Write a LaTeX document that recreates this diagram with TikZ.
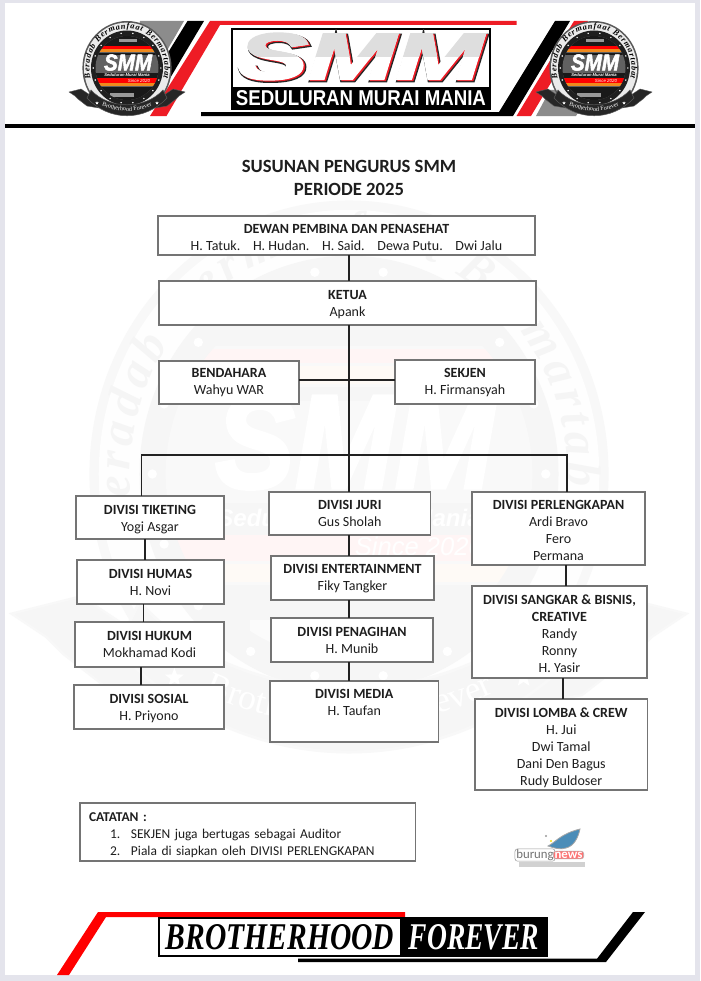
\documentclass[tikz,border=0pt]{standalone}
\usepackage{fontspec}
\usepackage{graphicx}
\setmainfont{Carlito}
\newfontfamily\lsans{Liberation Sans}
\newfontfamily\lserif{Liberation Serif}
\newfontface\lsansfat[FakeBold=5]{Liberation Sans Bold Italic}
\newfontface\lsansmid[FakeBold=2.5]{Liberation Sans Bold Italic}
\usetikzlibrary{shapes.geometric,decorations.text}
\definecolor{pagebg}{HTML}{E4E4EC}
\definecolor{boxgray}{HTML}{747474}
\definecolor{connink}{HTML}{222222}
\definecolor{inktext}{HTML}{1E1E1E}
\definecolor{smmred}{HTML}{EE1C25}
\definecolor{stripegray}{HTML}{8C8C8C}
\definecolor{logogray}{HTML}{DEDEDE}
\definecolor{bOrangeBase}{HTML}{F08A1D}
\tikzset{
  orgbox/.style={draw=boxgray,fill=white,line width=0.8pt,align=center,inner sep=0pt,outer sep=0pt,text=inktext,font=\fontsize{10.5}{12.75}\selectfont},
  conn/.style={draw=connink,line width=0.9pt},
  plain/.style={inner sep=0pt,outer sep=0pt},
}
% name x0 y0 x1 y1 firstlineheight text
\newcommand\orgnode[7]{\node[orgbox,minimum width={(#4-#2)*0.75pt},minimum height={(#5-#3)*0.75pt}] (#1) at ({(#2+#4)/2},{(#3+#5)/2}) {\rule{0pt}{#6pt}#7\rule[-3pt]{0pt}{3pt}};}
% cx cy scale mix(percent of full strength) prefix
\newcommand\badge[5]{%
\begin{scope}[shift={(#1,#2)}]
\pgfmathsetlengthmacro\bu{#3*0.75pt}
\pgfmathsetmacro\fsA{#3*6.2}
\pgfmathsetmacro\fsB{#3*4.6}
\pgfmathsetmacro\fsC{#3*3.1}
\pgfmathsetmacro\fsD{#3*3.3}
\pgfmathsetlengthmacro\wSmm{48*#3*0.75pt}
\pgfmathsetlengthmacro\hSmm{16*#3*0.75pt}
\pgfmathsetlengthmacro\ssz{3.4*#3*0.75pt}
\colorlet{bOuter}{black!65!white!#4!white}
\colorlet{bBand}{black!8!white!#4!white}
\colorlet{bRing}{black!88!white!#4!white}
\colorlet{bDisc}{black!62!white!#4!white}
\colorlet{bBlack}{black!90!white!#4!white}
\colorlet{bRed}{red!#4!white}
\colorlet{bOrange}{bOrangeBase!#4!white}
\colorlet{bMid}{black!40!white!#4!white}
\colorlet{bTxt}{black!#4!white}
\colorlet{bRib}{black!85!white!#4!white}
\begin{scope}[x=\bu,y=-\bu]
\fill[bRib,draw=bOuter,line width=0.4*\bu] (-58,24) -- (-46,21) -- (-34,29) -- (-28,40) -- (-40,38) -- (-49,31) -- (-52,28) -- cycle;
\fill[bRib,draw=bOuter,line width=0.4*\bu] (58,24) -- (46,21) -- (34,29) -- (28,40) -- (40,38) -- (49,31) -- (52,28) -- cycle;
\fill[bOuter] (0,0) ellipse[x radius=44.6,y radius=47];
\fill[bBand] (0,0) ellipse[x radius=43,y radius=45.4];
\fill[bRing] (0,0) ellipse[x radius=36,y radius=37.5];
\foreach \t in {0,20,...,340}{\fill[white] ({33.8*cos(\t)},{35.2*sin(\t)}) circle[radius=0.8];}
\begin{scope}
\clip (0,0) ellipse[x radius=31.5,y radius=32];
\fill[bDisc] (-35,-35) rectangle (35,35);
\fill[bBlack] (-35,-35) rectangle (35,-22);
\fill[bMid] (-8,-29) rectangle (10,-26);
\fill[bRed] (-35,-21.5) rectangle (35,-19);
\fill[bOrange] (-35,-18.5) rectangle (35,-15.5);
\fill[bBlack] (-35,-15) rectangle (35,-12.5);
\fill[bBlack] (-35,5) rectangle (35,10.5);
\fill[bRed] (-35,10.5) rectangle (35,15);
\fill[bOrange] (-35,15.5) rectangle (35,18.5);
\fill[bBlack] (-35,19) rectangle (35,35);
\fill[bMid] (-17,25) rectangle (7,29);
\end{scope}
\node[plain,text=white] (#5smm) at (1,-5.5) {\resizebox{\wSmm}{\hSmm}{\lsansmid SMM}};
\node[plain,text=white,font=\lsans\bfseries\itshape\fontsize{\fsC}{\fsC}\selectfont] (#5sub) at (0,7.5) {Seduluran Murai Mania};
\node[plain,text=white,font=\lsans\itshape\fontsize{\fsD}{\fsD}\selectfont] (#5since) at (12,12.5) {Since 2020};
\def\bandfont{\lserif\bfseries\itshape\fontsize{\fsA}{\fsA}\selectfont\color{bTxt}}
\path[decorate,decoration={text along path,text align=fit to path,text={|\bandfont|Beradab Bermanfaat Bermartabat}}] ({37.6*cos(165)},{39.4*sin(165)}) arc[start angle=165,end angle=375,x radius=37.6,y radius=39.4];
\fill[bRib,draw=bOuter,line width=0.5*\bu] (-40,30) .. controls (-18,53.7) and (18,53.7) .. (40,30) -- (36,22) .. controls (18,41.7) and (-18,41.7) .. (-36,22) -- cycle;
\def\ribfont{\lserif\fontsize{\fsB}{\fsB}\selectfont\color{white}}
\path[decorate,decoration={text along path,text align=center,text={|\ribfont|Brotherhood Forever}}] (-38,29) .. controls (-18,47.7) and (18,47.7) .. (38,29);
\node[star,star points=5,star point ratio=2.4,fill=white,inner sep=0pt,minimum size=\ssz] (#5sa) at (-30,35) {};
\node[star,star points=5,star point ratio=2.4,fill=white,inner sep=0pt,minimum size=\ssz] (#5sb) at (30,35) {};
\end{scope}
\end{scope}}
\begin{document}
\begin{tikzpicture}[x=0.75pt,y=-0.75pt]
\useasboundingbox (0,0) rectangle (700,981);
\fill[pagebg] (0,0) rectangle (700,981);
\fill[white] (5,3) rectangle (694.5,975);
% watermark
\badge{349}{474}{5.82}{4}{wm}
% header stripes
\fill[stripegray] (140,21) -- (184,21) -- (150,80) -- (130,80) -- cycle;
\fill[black] (187.5,21) -- (204,21) -- (166,85) -- (148,85) -- cycle;
\fill[smmred] (210,21) -- (516.5,21) -- (516.5,25) -- (220,25) -- (166.5,116) -- (150,116) -- cycle;
\fill[black] (555,21) -- (570,21) -- (513,116) -- (201,116) -- (201,112) -- (499,112) -- cycle;
\fill[smmred] (574,21) -- (588,21) -- (531,116) -- (516.5,116) -- cycle;
\fill[stripegray] (550,90) -- (592,90) -- (576,116) -- (536,116) -- cycle;
\fill[black] (5,124) rectangle (694.5,128);
\badge{127}{68}{1}{100}{la}
\badge{594}{68}{1}{100}{ra}
% centre logo
\node[draw=black,fill=white,line width=0.9pt,inner sep=0pt,outer sep=0pt,minimum width=193.5pt,minimum height=60pt] (logobox) at (361,69) {};
\node[fill=black,text=white,inner sep=0pt,outer sep=0pt,minimum width=193.5pt,minimum height=16.5pt] (logostrip) at (361,98) {\resizebox{187.5pt}{11.25pt}{\lsans\bfseries SEDULURAN MURAI MANIA}};
\begin{scope}
\clip (233,30) rectangle (489,86);
\node[plain,text=black!85] (smmA) at (362,58) {\resizebox{183.75pt}{34.5pt}{\lsansfat SMM}};
\node[plain,text=smmred] (smmB) at (362,57.5) {\resizebox{183.75pt}{34.5pt}{\lsansmid SMM}};
\node[plain,text=white] (smmC) at (360.5,56.5) {\resizebox{183.75pt}{34.5pt}{\lsansmid SMM}};
\end{scope}
\begin{scope}
\clip (232,30) rectangle (490,57);
\node[plain,text=logogray] (smmD) at (360.5,56.5) {\resizebox{183.75pt}{34.5pt}{\lsansmid SMM}};
\end{scope}
% title
\node[plain,align=center,text=inktext,font=\fontsize{14}{17.25}\selectfont\bfseries] (title) at (349,177.5) {SUSUNAN PENGURUS SMM\\PERIODE 2025};
% boxes
\orgnode{dewan}{158}{216}{535}{255}{13}{\textbf{DEWAN PEMBINA DAN PENASEHAT}\\H. Tatuk.\hspace{9.5pt}H. Hudan.\hspace{9.5pt}H. Said.\hspace{9.5pt}Dewa Putu.\hspace{9.5pt}Dwi Jalu}
\orgnode{ketua}{159}{281}{536}{325}{10.8}{\textbf{KETUA}\\Apank}
\orgnode{bend}{159}{361}{299}{404}{8.5}{\textbf{BENDAHARA}\\Wahyu WAR}
\orgnode{sekjen}{395}{360}{535}{404}{9.3}{\textbf{SEKJEN}\\H. Firmansyah}
\orgnode{tiket}{76}{496}{224}{539}{11.1}{\textbf{DIVISI TIKETING}\\Yogi Asgar}
\orgnode{humas}{77}{560}{224}{604}{10.8}{\textbf{DIVISI HUMAS}\\H. Novi}
\orgnode{hukum}{75}{622}{224}{667}{10}{\textbf{DIVISI HUKUM}\\Mokhamad Kodi}
\orgnode{sosial}{74}{685}{224}{729}{10.8}{\textbf{DIVISI SOSIAL}\\H. Priyono}
\orgnode{juri}{269}{492}{430.5}{535}{10}{\textbf{DIVISI JURI}\\Gus Sholah}
\orgnode{enter}{271}{556}{434}{600}{9.3}{\textbf{DIVISI ENTERTAINMENT}\\Fiky Tangker}
\orgnode{penag}{271}{618}{433}{662}{10.8}{\textbf{DIVISI PENAGIHAN}\\H. Munib}
\orgnode{media}{270}{681}{438.5}{742}{9.3}{\textbf{DIVISI MEDIA}\\H. Taufan\\~}
\orgnode{perl}{472}{492}{645}{565}{13}{\textbf{DIVISI PERLENGKAPAN}\\Ardi Bravo\\Fero\\Permana}
\orgnode{sangkar}{472}{586}{647}{678}{12.6}{\textbf{DIVISI SANGKAR \& BISNIS,}\\\textbf{CREATIVE}\\Randy\\Ronny\\H. Yasir}
\orgnode{lomba}{475}{699}{647.5}{790}{13.8}{\textbf{DIVISI LOMBA \& CREW}\\H. Jui\\Dwi Tamal\\Dani Den Bagus\\Rudy Buldoser}
% connectors
\coordinate (xc) at (349,0);
\coordinate (xl) at (141.5,0);
\coordinate (xr) at (567,0);
\coordinate (ybus) at (0,455);
\coordinate (ybar) at (0,380);
\coordinate (xa) at (145,0);
\coordinate (xb) at (143.5,0);
\coordinate (xd) at (141,0);
\coordinate (xe) at (566,0);
\coordinate (xf) at (563,0);
\draw[conn] (dewan.south -| xc) -- (ketua.north -| xc);
\draw[conn] (ketua.south -| xc) -- (juri.north -| xc);
\draw[conn] (bend.east |- ybar) -- (sekjen.west |- ybar);
\draw[conn] (tiket.north -| xl) -- (xl |- ybus) -- (xr |- ybus) -- (perl.north -| xr);
\draw[conn] (tiket.south -| xa) -- (humas.north -| xa);
\draw[conn] (humas.south -| xb) -- (hukum.north -| xb);
\draw[conn] (hukum.south -| xd) -- (sosial.north -| xd);
\draw[conn] (juri.south -| xc) -- (enter.north -| xc);
\draw[conn] (enter.south -| xc) -- (penag.north -| xc);
\draw[conn] (penag.south -| xc) -- (media.north -| xc);
\draw[conn] (perl.south -| xe) -- (sangkar.north -| xe);
\draw[conn] (sangkar.south -| xf) -- (lomba.north -| xf);
% notes
\node[orgbox,align=left,text width=238.2pt,inner xsep=6.75pt,minimum height=43.5pt,font=\fontsize{10.1}{12.75}\selectfont] (notes) at (247.8,832) {\rule{0pt}{11.5pt}\textbf{CATATAN :}\\\makebox[15.75pt][l]{}\makebox[15.75pt][l]{1.}SEKJEN juga bertugas sebagai Auditor\\\makebox[15.75pt][l]{}\makebox[15.75pt][l]{2.}Piala di siapkan oleh DIVISI PERLENGKAPAN};
% burung news mark
\fill[black!18] (519,862) rectangle (585,867);
\fill[blue!40!cyan!60!black!70!white,draw=black!35,line width=0.6pt] (548,846) .. controls (556,842) and (560,834) .. (580,829) .. controls (578,838) and (574,846) .. (566,848) .. controls (560,850) and (554,848) .. (548,846) -- cycle;
\fill[yellow!80!orange] (551,841) circle[radius=1.2];
\fill[black!40] (546,836) circle[radius=1.2];
\node[draw=black!40,fill=white,rounded corners=2pt,text=black!55,inner xsep=1pt,inner ysep=0.5pt,font=\fontsize{9.6}{9.6}\selectfont] (burung) at (535,855) {burung};
\node[draw=black!30,fill=red!55!white,rounded corners=2pt,text=white,inner xsep=1pt,inner ysep=0.5pt,font=\fontsize{9.6}{9.6}\selectfont\bfseries] (news) at (568.5,855) {news};
% footer
\fill[red] (98,912) -- (405,912) -- (405,917) -- (106,917) -- (69,975) -- (57,975) -- cycle;
\fill[black] (633,912) -- (645,912) -- (606,962) -- (298,962) -- (298,958.7) -- (597,958.7) -- cycle;
\node[draw=black,fill=white,line width=0.9pt,inner sep=0pt,outer sep=0pt,minimum width=181.5pt,minimum height=28.5pt,text=black] (bhood) at (280,937) {\resizebox{171pt}{18.75pt}{\lserif\bfseries\itshape BROTHERHOOD}};
\node[draw=black,fill=black,line width=0.9pt,inner sep=0pt,outer sep=0pt,minimum width=109.5pt,minimum height=28.5pt,text=white] (fever) at (474,937) {\resizebox{97.5pt}{18.75pt}{\lserif\bfseries\itshape FOREVER}};
\end{tikzpicture}
\end{document}
